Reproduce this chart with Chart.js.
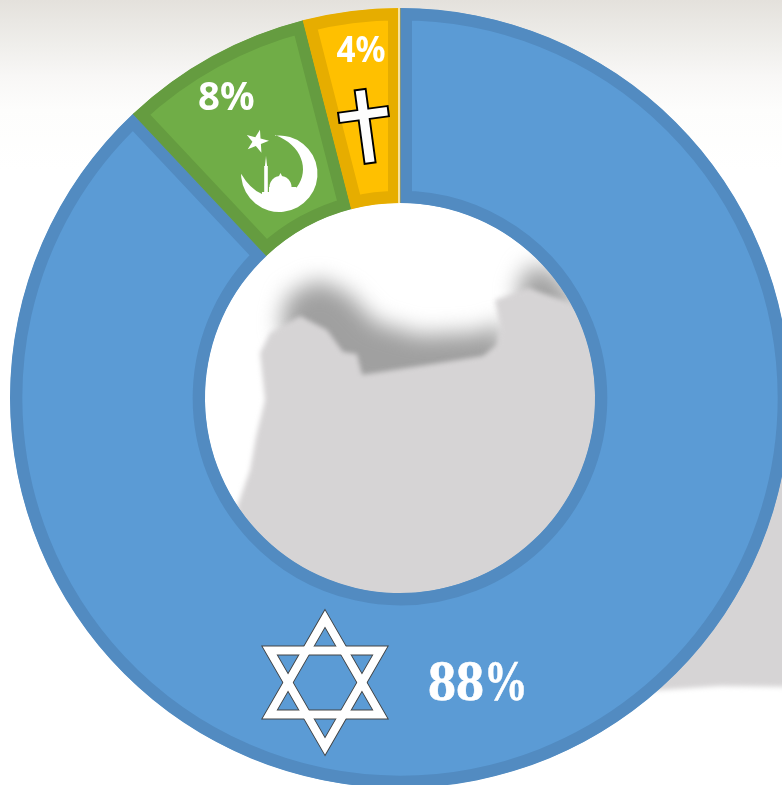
<!DOCTYPE html>
<html><head><meta charset="utf-8">
<style>html,body{margin:0;padding:0;width:782px;height:785px;overflow:hidden;background:#fff}canvas{display:block;position:absolute;left:0;top:0}</style>
<script src="https://cdn.jsdelivr.net/npm/chart.js@4"></script>
</head><body><canvas id="c" width="800" height="796"></canvas>
<script>
const categories = ['Judaism', 'Islam', 'Christianity'];
const shares = [88, 8, 4];
const fills = ['#5B9BD5', '#70AD47', '#FFC000'];
const edges = ['#528BC1', '#659C40', '#E6AD00'];

function poly(ctx, pts) {
  ctx.beginPath();
  pts.forEach((p, i) => i ? ctx.lineTo(p[0], p[1]) : ctx.moveTo(p[0], p[1]));
  ctx.closePath();
}
const backdrop = {
  id: 'backdrop',
  beforeDatasetsDraw(chart) {
    const ctx = chart.ctx;
    ctx.save();
    ctx.fillStyle = '#fff';
    ctx.fillRect(0, 0, 800, 796);
    const g = ctx.createLinearGradient(0, 0, 0, 170);
    g.addColorStop(0, '#e4e1dc');
    g.addColorStop(0.12, '#e9e7e3');
    g.addColorStop(0.28, '#f0efec');
    g.addColorStop(0.45, '#f8f7f6');
    g.addColorStop(0.65, '#fdfdfc');
    g.addColorStop(1, '#ffffff');
    ctx.fillStyle = g;
    ctx.fillRect(0, 0, 800, 170);
    // shadow
    ctx.filter = 'blur(11px)';
    ctx.fillStyle = '#a0a0a0';
    poly(ctx, [[280, 325], [288, 295], [318, 280], [348, 293], [375, 322], [420, 335], [480, 332], [504, 322], [506, 380], [362, 395], [300, 355]]);
    ctx.fill();
    poly(ctx, [[515, 295], [528, 266], [552, 270], [585, 310], [540, 318]]);
    ctx.fill();
    // land
    ctx.filter = 'blur(2.4px)';
    ctx.fillStyle = '#d6d4d5';
    poly(ctx, [[236, 510], [250, 470], [256, 437], [265, 400], [260, 353], [270, 333], [300, 316], [327, 330], [343, 352], [357, 354], [362, 375], [433, 364], [483, 356], [497, 345], [500, 327], [495, 300], [528, 288], [570, 303], [640, 380], [800, 380], [800, 687], [720, 686], [660, 690], [500, 700], [300, 640]]);
    ctx.fill();
    ctx.filter = 'none';
    ctx.restore();
  }
};

function star(ctx, cx, cy, R, r, rot) {
  ctx.beginPath();
  for (let i = 0; i < 10; i++) {
    const a = rot + i * Math.PI / 5, d = i % 2 ? r : R;
    ctx[i ? 'lineTo' : 'moveTo'](cx + d * Math.sin(a), cy - d * Math.cos(a));
  }
  ctx.closePath();
}
function triPath(ctx, cx, cy, R, up) {
  for (let i = 0; i < 3; i++) {
    const a = (up ? 0 : Math.PI) + i * 2 * Math.PI / 3;
    ctx[i ? 'lineTo' : 'moveTo'](cx + R * Math.sin(a), cy - R * Math.cos(a));
  }
  ctx.closePath();
}
const emblems = {
  id: 'emblems',
  afterDatasetsDraw(chart) {
    const ctx = chart.ctx;
    const arc = chart.getDatasetMeta(0).data[0];
    ctx.save();
    ctx.strokeStyle = 'rgba(255,250,235,.85)';
    ctx.lineWidth = 1.6;
    ctx.beginPath();
    ctx.moveTo(arc.x - 1, arc.y - arc.innerRadius);
    ctx.lineTo(arc.x - 1, arc.y - arc.outerRadius);
    ctx.stroke();

    // Star of David
    const sx = 325, sy = 682.5, R1 = 72.5, R2 = 55.5;
    ctx.strokeStyle = '#444';
    ctx.lineWidth = 1.4;
    ctx.lineJoin = 'miter';
    [true, false].forEach(up => {
      ctx.beginPath(); triPath(ctx, sx, sy, R1, up); triPath(ctx, sx, sy, R2, up); ctx.stroke();
    });
    ctx.fillStyle = '#fff';
    [true, false].forEach(up => {
      ctx.beginPath(); triPath(ctx, sx, sy, R1 - 0.5, up); triPath(ctx, sx, sy, R2 + 0.5, up); ctx.fill('evenodd');
    });

    // Crescent, star and mosque
    ctx.fillStyle = '#fff';
    ctx.beginPath();
    ctx.moveTo(275, 135);
    ctx.arc(279.3, 173.7, 38.2, -1.68, Math.PI, false);
    ctx.quadraticCurveTo(250, 189, 262, 194);
    ctx.quadraticCurveTo(285, 197, 297, 187);
    ctx.bezierCurveTo(310, 170, 302, 145, 275, 135);
    ctx.closePath();
    ctx.fill();
    star(ctx, 257, 141.5, 12, 4.6, 0.25);
    ctx.fill();
    ctx.fillRect(264.2, 166, 3.6, 32);
    ctx.beginPath(); ctx.moveTo(264.8, 167); ctx.lineTo(266, 156); ctx.lineTo(267.2, 167); ctx.closePath(); ctx.fill();
    ctx.fillRect(262, 192, 8, 6);
    ctx.fillRect(269, 187, 27, 10);
    ctx.beginPath(); ctx.arc(280.5, 187, 11, Math.PI, 0); ctx.fill();
    ctx.beginPath(); ctx.moveTo(278, 178); ctx.lineTo(280.5, 173); ctx.lineTo(283, 178); ctx.closePath(); ctx.fill();

    // Cross
    ctx.translate(363.5, 114.5);
    ctx.rotate(-0.135);
    ctx.fillStyle = '#000';
    ctx.beginPath();
    ctx.rect(-6.5, -26, 13, 76);
    ctx.rect(-26, -6, 52, 12);
    ctx.fill();
    ctx.fillStyle = '#fdfdfd';
    ctx.fillRect(-4.6, -24, 9.2, 72);
    ctx.fillRect(-24, -4.2, 48, 8.4);
    ctx.restore();

    // Percentage labels
    ctx.save();
    ctx.fillStyle = '#fff';
    ctx.strokeStyle = '#fff';
    ctx.textBaseline = 'alphabetic';
    ctx.textAlign = 'left';
    const looks = [
      {font: 'bold 56px "Liberation Serif"', x: 428, y: 700, numX: 1, pctX: 0.78, w: 0.6},
      {font: 'bold 40px "Noto Sans"', x: 198, y: 110, numX: 0.96, pctX: 0.96, w: 0},
      {font: 'bold 35px "Noto Sans"', x: 336.5, y: 62, numX: 0.95, pctX: 0.95, w: 0}
    ];
    shares.forEach((v, i) => {
      const k = looks[i];
      ctx.font = k.font;
      const num = String(v);
      const piece = (txt, x, scale) => {
        ctx.save();
        ctx.translate(x, k.y);
        ctx.scale(scale, 1);
        ctx.fillText(txt, 0, 0);
        if (k.w) { ctx.lineWidth = k.w; ctx.strokeText(txt, 0, 0); }
        ctx.restore();
      };
      piece(num, k.x, k.numX);
      piece('%', k.x + ctx.measureText(num).width * k.numX, k.pctX);
    });
    ctx.restore();
  }
};

new Chart(document.getElementById('c'), {
  type: 'doughnut',
  data: {
    labels: categories,
    datasets: [{
      data: shares,
      backgroundColor: fills,
      borderColor: edges,
      borderWidth: 12,
      borderAlign: 'inner',
      borderJoinStyle: 'miter'
    }]
  },
  options: {
    responsive: false,
    animation: false,
    devicePixelRatio: 1,
    cutout: '50%',
    layout: {padding: 8},
    plugins: {legend: {display: false}, tooltip: {enabled: false}, title: {display: false}}
  },
  plugins: [backdrop, emblems]
});
</script></body></html>
